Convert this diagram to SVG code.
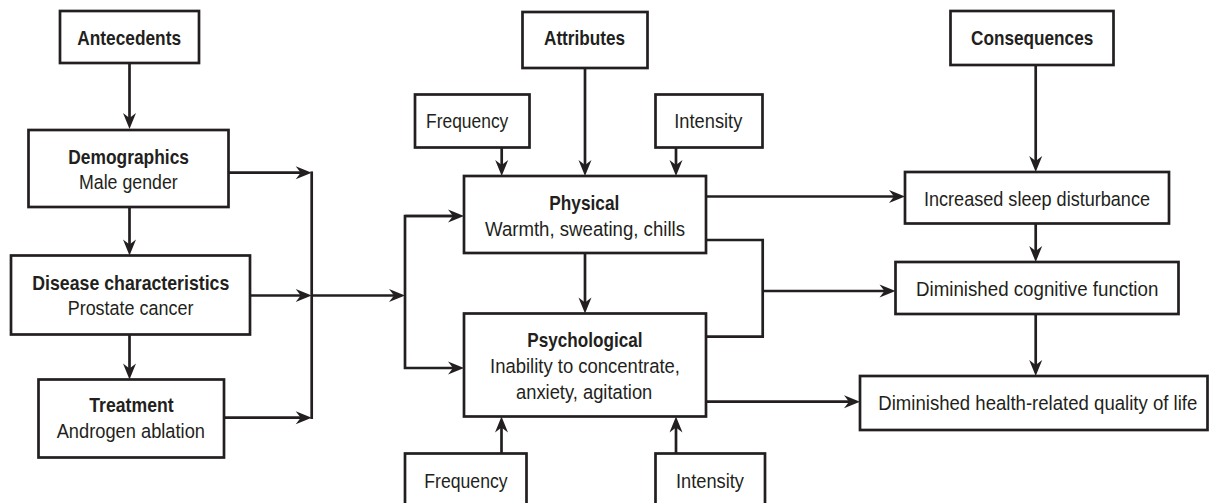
<svg xmlns="http://www.w3.org/2000/svg" width="1209" height="503" viewBox="0 0 1209 503">
<style>
.box{fill:#fff;stroke:#231f20;stroke-width:2.7}
.c{fill:none;stroke:#231f20;stroke-width:2.7}
text{font-family:"Liberation Sans Narrow","Liberation Sans",Arial,sans-serif;font-size:20.5px;fill:#231f20}
.b{font-weight:bold}
</style>
<defs>
<marker id="ah" markerUnits="userSpaceOnUse" markerWidth="20" markerHeight="16" viewBox="-11 -8 20 16" refX="0" refY="0" orient="auto" overflow="visible">
<path d="M6,0 L-10,-6.5 L-5,0 L-10,6.5 Z" fill="#231f20"/>
</marker>
</defs>
<rect width="1209" height="503" fill="#fff"/>
<g id="connectors">
<path class="c" d="M129.5,63 V123" marker-end="url(#ah)"/>
<path class="c" d="M129.5,207 V249.5" marker-end="url(#ah)"/>
<path class="c" d="M129.5,334.5 V373.5" marker-end="url(#ah)"/>
<path class="c" d="M228.5,172.7 H305.7" marker-end="url(#ah)"/>
<path class="c" d="M250,295.5 H305.7" marker-end="url(#ah)"/>
<path class="c" d="M224,417.7 H305.7" marker-end="url(#ah)"/>
<path class="c" d="M311.7,171.4 V419"/>
<path class="c" d="M311.7,295.5 H399" marker-end="url(#ah)"/>
<path class="c" d="M458,216 H405 V368 H458" marker-end="url(#ah)"/>
<path class="c" d="M405,216 H458" marker-end="url(#ah)"/>
<path class="c" d="M585,68 V170" marker-end="url(#ah)"/>
<path class="c" d="M501.7,147.5 V170" marker-end="url(#ah)"/>
<path class="c" d="M676,147.5 V170" marker-end="url(#ah)"/>
<path class="c" d="M585,253 V307.5" marker-end="url(#ah)"/>
<path class="c" d="M501.5,453.5 V422.5" marker-end="url(#ah)"/>
<path class="c" d="M676,453.5 V422.5" marker-end="url(#ah)"/>
<path class="c" d="M706,196.5 H899" marker-end="url(#ah)"/>
<path class="c" d="M706,240 H762.7 V336.7 H706"/>
<path class="c" d="M762.7,291 H889.5" marker-end="url(#ah)"/>
<path class="c" d="M706,401.7 H854" marker-end="url(#ah)"/>
<path class="c" d="M1035.7,65 V166" marker-end="url(#ah)"/>
<path class="c" d="M1035.7,223.5 V256" marker-end="url(#ah)"/>
<path class="c" d="M1035.7,314 V370" marker-end="url(#ah)"/>
</g>
<g id="antecedents"><rect class="box" x="60" y="11" width="139" height="52"/><text class="b" x="77.3" y="45" textLength="103.7" lengthAdjust="spacingAndGlyphs">Antecedents</text></g>
<g id="demographics"><rect class="box" x="28.5" y="130" width="200" height="77"/><text class="b" x="68.3" y="164" textLength="120.7" lengthAdjust="spacingAndGlyphs">Demographics</text><text x="79" y="189" textLength="98.7" lengthAdjust="spacingAndGlyphs">Male gender</text></g>
<g id="disease"><rect class="box" x="11" y="255.5" width="239" height="79"/><text class="b" x="32.3" y="289.7" textLength="197" lengthAdjust="spacingAndGlyphs">Disease characteristics</text><text x="67.7" y="315.3" textLength="125.7" lengthAdjust="spacingAndGlyphs">Prostate cancer</text></g>
<g id="treatment"><rect class="box" x="38.5" y="379.5" width="185.5" height="78"/><text class="b" x="89.3" y="412.3" textLength="84.3" lengthAdjust="spacingAndGlyphs">Treatment</text><text x="56.7" y="438.3" textLength="148.3" lengthAdjust="spacingAndGlyphs">Androgen ablation</text></g>
<g id="attributes"><rect class="box" x="522.5" y="12" width="125" height="56"/><text class="b" x="544" y="45" textLength="81" lengthAdjust="spacingAndGlyphs">Attributes</text></g>
<g id="frequency-top"><rect class="box" x="415" y="94.5" width="114.5" height="53"/><text x="426" y="128.3" textLength="82.3" lengthAdjust="spacingAndGlyphs">Frequency</text></g>
<g id="intensity-top"><rect class="box" x="655.5" y="94.5" width="107" height="53"/><text x="674.3" y="128.3" textLength="68" lengthAdjust="spacingAndGlyphs">Intensity</text></g>
<g id="physical"><rect class="box" x="464" y="176" width="242" height="77"/><text class="b" x="549.3" y="210" textLength="70" lengthAdjust="spacingAndGlyphs">Physical</text><text x="485" y="236" textLength="200" lengthAdjust="spacingAndGlyphs">Warmth, sweating, chills</text></g>
<g id="psychological"><rect class="box" x="464" y="313.5" width="242" height="103"/><text class="b" x="527.3" y="346.7" textLength="115.3" lengthAdjust="spacingAndGlyphs">Psychological</text><text x="490" y="373.3" textLength="190" lengthAdjust="spacingAndGlyphs">Inability to concentrate,</text><text x="516" y="399" textLength="136.3" lengthAdjust="spacingAndGlyphs">anxiety, agitation</text></g>
<g id="frequency-bottom"><rect class="box" x="405" y="453.5" width="121.5" height="60"/><text x="424.3" y="488.3" textLength="83.3" lengthAdjust="spacingAndGlyphs">Frequency</text></g>
<g id="intensity-bottom"><rect class="box" x="655.5" y="453.5" width="109.5" height="60"/><text x="676" y="488" textLength="68" lengthAdjust="spacingAndGlyphs">Intensity</text></g>
<g id="consequences"><rect class="box" x="950.5" y="11" width="163" height="54"/><text class="b" x="971" y="45" textLength="122.3" lengthAdjust="spacingAndGlyphs">Consequences</text></g>
<g id="sleep"><rect class="box" x="905" y="172" width="264" height="51.5"/><text x="924" y="205.7" textLength="226" lengthAdjust="spacingAndGlyphs">Increased sleep disturbance</text></g>
<g id="cognitive"><rect class="box" x="895.5" y="262" width="283" height="52"/><text x="916" y="295.7" textLength="242.3" lengthAdjust="spacingAndGlyphs">Diminished cognitive function</text></g>
<g id="health"><rect class="box" x="860" y="376" width="347.5" height="54"/><text x="878.3" y="410" textLength="319" lengthAdjust="spacingAndGlyphs">Diminished health-related quality of life</text></g>
</svg>
